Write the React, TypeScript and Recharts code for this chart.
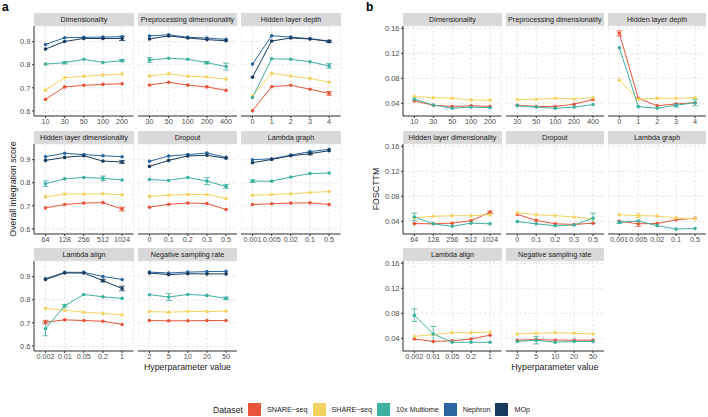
import React from "react";
import { LineChart, Line, XAxis, YAxis, CartesianGrid, ErrorBar } from "recharts";

const FONT = "'Liberation Sans', Arial, Helvetica, sans-serif";

const FACETS = [
  "Dimensionality",
  "Preprocessing dimensionality",
  "Hidden layer depth",
  "Hidden layer dimensionality",
  "Dropout",
  "Lambda graph",
  "Lambda align",
  "Negative sampling rate",
];

const X_LABELS = [
  ["10", "30", "50", "100", "200"],
  ["30", "50", "100", "200", "400"],
  ["0", "1", "2", "3", "4"],
  ["64", "128", "256", "512", "1024"],
  ["0", "0.1", "0.2", "0.3", "0.5"],
  ["0.001", "0.005", "0.02", "0.1", "0.5"],
  ["0.002", "0.01", "0.05", "0.2", "1"],
  ["2", "5", "10", "20", "50"],
];

const DATASETS = ["SNARE\u2212seq", "SHARE\u2212seq", "10x Multiome", "Nephron", "MOp"];
const COLORS = ["#E6553A", "#F4D25F", "#3CB1A2", "#2A65A1", "#183A5E"];

// a: overall integration score, one row per facet
const SCORE_SNARE = [
  [0.65, 0.704, 0.711, 0.715, 0.718],
  [0.712, 0.724, 0.712, 0.704, 0.689],
  [0.601, 0.705, 0.711, 0.694, 0.676],
  [0.691, 0.706, 0.712, 0.714, 0.686],
  [0.694, 0.707, 0.712, 0.71, 0.684],
  [0.706, 0.709, 0.712, 0.713, 0.706],
  [0.703, 0.713, 0.71, 0.707, 0.693],
  [0.71, 0.709, 0.709, 0.71, 0.71],
];
const SCORE_SHARE = [
  [0.69, 0.744, 0.75, 0.756, 0.76],
  [0.751, 0.761, 0.75, 0.747, 0.738],
  [0.665, 0.763, 0.751, 0.741, 0.724],
  [0.739, 0.751, 0.751, 0.752, 0.748],
  [0.741, 0.746, 0.749, 0.749, 0.732],
  [0.746, 0.749, 0.752, 0.758, 0.762],
  [0.762, 0.755, 0.746, 0.741, 0.735],
  [0.749, 0.746, 0.749, 0.749, 0.751],
];
const SCORE_10X = [
  [0.803, 0.809, 0.824, 0.81, 0.818],
  [0.821, 0.828, 0.824, 0.809, 0.792],
  [0.658, 0.826, 0.824, 0.813, 0.795],
  [0.796, 0.817, 0.823, 0.819, 0.812],
  [0.814, 0.81, 0.823, 0.807, 0.784],
  [0.807, 0.807, 0.825, 0.84, 0.842],
  [0.674, 0.774, 0.823, 0.813, 0.806],
  [0.822, 0.812, 0.823, 0.819, 0.806],
];
const SCORE_NEPHRON = [
  [0.888, 0.917, 0.919, 0.92, 0.922],
  [0.925, 0.93, 0.919, 0.916, 0.91],
  [0.803, 0.926, 0.92, 0.913, 0.903],
  [0.913, 0.928, 0.922, 0.917, 0.913],
  [0.893, 0.916, 0.922, 0.929, 0.91],
  [0.9, 0.904, 0.92, 0.935, 0.945],
  [0.891, 0.919, 0.919, 0.901, 0.888],
  [0.92, 0.916, 0.92, 0.922, 0.923],
];
const SCORE_MOP = [
  [0.868, 0.901, 0.914, 0.914, 0.914],
  [0.912, 0.925, 0.916, 0.909, 0.904],
  [0.746, 0.903, 0.916, 0.912, 0.901],
  [0.897, 0.91, 0.917, 0.894, 0.89],
  [0.871, 0.897, 0.916, 0.919, 0.906],
  [0.887, 0.901, 0.917, 0.926, 0.939],
  [0.888, 0.916, 0.916, 0.883, 0.849],
  [0.916, 0.909, 0.913, 0.912, 0.912],
];
// [facet, dataset, point, half-width]
const SCORE_ERR = [
  [0, 4, 4, 0.009], [0, 2, 4, 0.005], [0, 2, 1, 0.005],
  [1, 2, 0, 0.01], [1, 2, 4, 0.015], [1, 2, 3, 0.005],
  [2, 2, 4, 0.01], [2, 0, 4, 0.008], [2, 4, 4, 0.005],
  [3, 2, 0, 0.012], [3, 2, 3, 0.01], [3, 4, 4, 0.006], [3, 0, 4, 0.008],
  [4, 2, 3, 0.015], [4, 2, 4, 0.008],
  [5, 2, 0, 0.006], [5, 4, 3, 0.005],
  [6, 2, 0, 0.03], [6, 4, 4, 0.01], [6, 4, 3, 0.006], [6, 0, 0, 0.008], [6, 2, 1, 0.006],
  [7, 2, 1, 0.015], [7, 2, 4, 0.006],
];

// b: FOSCTTM
const FOSC_SNARE = [
  [0.0437, 0.037, 0.035, 0.036, 0.035],
  [0.037, 0.035, 0.035, 0.0385, 0.046],
  [0.152, 0.048, 0.036, 0.039, 0.041],
  [0.0363, 0.036, 0.037, 0.041, 0.0545],
  [0.051, 0.0415, 0.036, 0.035, 0.037],
  [0.04, 0.036, 0.0365, 0.0425, 0.045],
  [0.039, 0.035, 0.036, 0.039, 0.045],
  [0.037, 0.038, 0.037, 0.037, 0.037],
];
const FOSC_SHARE = [
  [0.0507, 0.049, 0.048, 0.0453, 0.045],
  [0.046, 0.0465, 0.048, 0.047, 0.049],
  [0.077, 0.0465, 0.048, 0.048, 0.049],
  [0.0458, 0.048, 0.049, 0.049, 0.0506],
  [0.0535, 0.0505, 0.049, 0.047, 0.044],
  [0.0506, 0.049, 0.0485, 0.0453, 0.044],
  [0.043, 0.046, 0.049, 0.049, 0.05],
  [0.047, 0.048, 0.049, 0.048, 0.047],
];
const FOSC_10X = [
  [0.0464, 0.0373, 0.032, 0.034, 0.033],
  [0.036, 0.034, 0.032, 0.034, 0.038],
  [0.129, 0.0347, 0.032, 0.037, 0.041],
  [0.047, 0.036, 0.032, 0.037, 0.036],
  [0.0395, 0.036, 0.033, 0.034, 0.045],
  [0.0385, 0.0405, 0.033, 0.0275, 0.0285],
  [0.077, 0.047, 0.0336, 0.0336, 0.0336],
  [0.035, 0.037, 0.0336, 0.035, 0.035],
];
const FOSC_ERR = [
  [2, 0, 0, 0.004], [2, 2, 4, 0.005], [2, 2, 3, 0.003],
  [3, 2, 0, 0.006], [3, 0, 4, 0.002],
  [4, 2, 4, 0.008],
  [5, 1, 1, 0.003], [5, 0, 1, 0.004], [5, 2, 0, 0.002],
  [6, 2, 0, 0.01], [6, 2, 1, 0.012],
  [7, 2, 1, 0.006],
];

const SCORE_TICKS = [0.6, 0.7, 0.8, 0.9];
const FOSC_TICKS = [0.04, 0.08, 0.12, 0.16];

const ROW_TOP = [26, 143.6, 261.3];
const PLOT_H = 90;
const STRIP_H = 13;
const X_AXIS_H = 14;
const PAD_TOP = 6; // room above the plot so the top tick label is not clipped

const PANELS = [
  {
    letter: "a", letterX: 2,
    yTitle: "Overall integration score", yTitleX: 13,
    values: [SCORE_SNARE, SCORE_SHARE, SCORE_10X, SCORE_NEPHRON, SCORE_MOP],
    errors: SCORE_ERR,
    domain: [0.578, 0.968], ticks: SCORE_TICKS, digits: 1,
    cols: [34.2, 137.7, 241.2], colW: 99.6, yAxisW: 28,
  },
  {
    letter: "b", letterX: 366,
    yTitle: "FOSCTTM", yTitleX: 376,
    values: [FOSC_SNARE, FOSC_SHARE, FOSC_10X],
    errors: FOSC_ERR,
    domain: [0.0197, 0.1637], ticks: FOSC_TICKS, digits: 2,
    cols: [403.3, 505.6, 607.9], colW: 98.4, yAxisW: 30,
  },
];

const axisStroke = "#333333";
const yTickText = { fill: "#4D4D4D", fontSize: 7.5, fontFamily: FONT };
const xTickText = { fill: "#4D4D4D", fontSize: 7.2, fontFamily: FONT };

function Facet({ panel, f }: { panel: any; f: number }) {
  const row = Math.floor(f / 3);
  const col = f % 3;
  const left = panel.cols[col];
  const top = ROW_TOP[row];
  const yw = col === 0 ? panel.yAxisW : 0;

  const data = X_LABELS[f].map((_, i) => {
    const d: any = { i };
    panel.values.forEach((vals: number[][], s: number) => {
      d["s" + s] = vals[f][i];
      d["e" + s] = 0;
    });
    return d;
  });
  panel.errors.forEach(([ff, s, i, e]: number[]) => {
    if (ff === f) data[i]["e" + s] = e;
  });

  return (
    <>
      <div
        style={{
          position: "absolute", left, top: top - STRIP_H, width: panel.colW, height: STRIP_H,
          background: "#D9D9D9", color: "#1A1A1A", fontSize: 7.2, fontFamily: FONT,
          display: "flex", alignItems: "center", justifyContent: "center", whiteSpace: "nowrap",
        }}
      >
        {FACETS[f]}
      </div>
      <div style={{ position: "absolute", left: left - yw, top: top - PAD_TOP }}>
        <LineChart
          width={panel.colW + yw}
          height={PLOT_H + X_AXIS_H + PAD_TOP}
          data={data}
          margin={{ top: PAD_TOP, right: 0, bottom: 0, left: 0 }}
        >
          <CartesianGrid stroke="#E6E6E6" strokeDasharray="2.5 2" />
          <XAxis
            type="number" dataKey="i" domain={[-0.6, 4.6]} ticks={[0, 1, 2, 3, 4]}
            tickFormatter={(v: number) => X_LABELS[f][v]} interval={0} height={X_AXIS_H}
            tickSize={2} tickMargin={1} allowDataOverflow
            axisLine={{ stroke: axisStroke }} tickLine={{ stroke: axisStroke }} tick={xTickText}
          />
          {col === 0 ? (
            <YAxis
              type="number" domain={panel.domain} ticks={panel.ticks} width={yw} allowDataOverflow
              tickFormatter={(v: number) => v.toFixed(panel.digits)} interval={0}
              tickSize={2} tickMargin={1.5}
              axisLine={{ stroke: axisStroke }} tickLine={{ stroke: axisStroke }} tick={yTickText}
            />
          ) : (
            <YAxis type="number" domain={panel.domain} ticks={panel.ticks} hide allowDataOverflow />
          )}
          {panel.values.map((_: any, s: number) => (
            <Line
              key={s} type="linear" dataKey={"s" + s} stroke={COLORS[s]} strokeWidth={1}
              dot={{ r: 1.8, fill: COLORS[s], stroke: COLORS[s], strokeWidth: 0 }}
              activeDot={false} isAnimationActive={false}
            >
              <ErrorBar dataKey={"e" + s} direction="y" width={3} stroke={COLORS[s]} strokeWidth={0.8} />
            </Line>
          ))}
        </LineChart>
      </div>
    </>
  );
}

function Panel({ panel }: { panel: any }) {
  const x0 = panel.cols[0];
  const x1 = panel.cols[2] + panel.colW;
  const yMid = (ROW_TOP[0] + ROW_TOP[2] + PLOT_H) / 2;
  return (
    <>
      <div style={{ position: "absolute", left: panel.letterX, top: 0, fontSize: 12, fontWeight: "bold", fontFamily: FONT }}>
        {panel.letter}
      </div>
      <div
        style={{
          position: "absolute", left: panel.yTitleX - 100, top: yMid - 6, width: 200, height: 12,
          textAlign: "center", fontSize: 8.8, fontFamily: FONT, color: "#1A1A1A",
          transform: "rotate(-90deg)", lineHeight: "12px",
        }}
      >
        {panel.yTitle}
      </div>
      {FACETS.map((_, f) => (
        <Facet key={f} panel={panel} f={f} />
      ))}
      <div
        style={{
          position: "absolute", left: (x0 + x1) / 2 - 100, top: 361, width: 200, textAlign: "center",
          fontSize: 8.8, fontFamily: FONT, color: "#1A1A1A", lineHeight: "12px",
        }}
      >
        Hyperparameter value
      </div>
    </>
  );
}

export default function App() {
  return (
    <div style={{ position: "absolute", left: 0, top: 0, width: 708, height: 417, background: "#fff", overflow: "hidden", fontFamily: FONT }}>
      {PANELS.map((p) => (
        <Panel key={p.letter} panel={p} />
      ))}
      <div style={{ position: "absolute", left: 213, top: 403, height: 13, display: "flex", alignItems: "center", fontFamily: FONT }}>
        <span style={{ fontSize: 8.7, color: "#1A1A1A", marginRight: 5 }}>Dataset</span>
        {DATASETS.map((name, s) => (
          <React.Fragment key={name}>
            <span style={{ width: 13, height: 13, background: COLORS[s], display: "inline-block", marginRight: 6 }} />
            <span style={{ fontSize: 7.2, color: "#1A1A1A", marginRight: 5 }}>{name}</span>
          </React.Fragment>
        ))}
      </div>
    </div>
  );
}
